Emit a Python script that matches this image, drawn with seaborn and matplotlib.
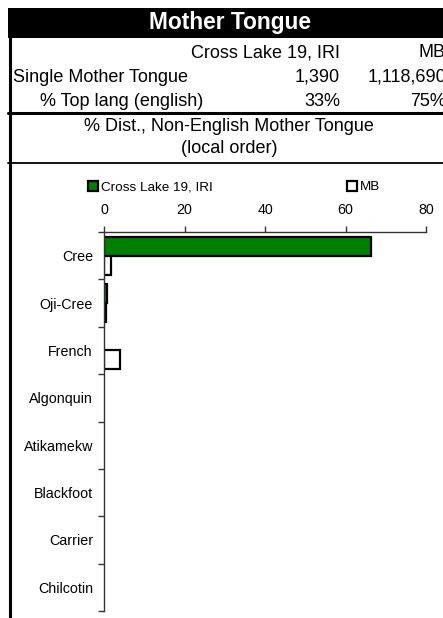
import matplotlib
matplotlib.use("Agg")
import matplotlib.pyplot as plt
from matplotlib.patches import Rectangle
from matplotlib.lines import Line2D
import seaborn as sns
import pandas as pd

# ---- data ----
languages = ["Cree", "Oji-Cree", "French", "Algonquin", "Atikamekw",
             "Blackfoot", "Carrier", "Chilcotin"]
cross_lake = [66.3, 0.8, 0.0, 0.0, 0.0, 0.0, 0.0, 0.0]
mb = [1.8, 0.6, 3.9, 0.0, 0.0, 0.0, 0.0, 0.0]
series_names = ["Cross Lake 19, IRI", "MB"]
x_ticks = [0, 20, 40, 60, 80]

header_cols = ["Cross Lake 19, IRI", "MB"]
row_labels = ["Single Mother Tongue", "% Top lang (english)"]
row_local = ["1,390", "33%"]
row_mb = ["1,118,690", "75%"]

sns.set_theme(style="white")
plt.rcParams["font.family"] = ["Liberation Sans", "DejaVu Sans"]
plt.rcParams["text.color"] = "black"
plt.rcParams["xtick.color"] = "black"
plt.rcParams["ytick.color"] = "black"

W, H = 443, 618
fig = plt.figure(figsize=(W / 100, H / 100), dpi=100)
fig.patch.set_facecolor("white")

def fx(px):
    return px / W

def fy(py):
    return 1 - py / H

# ---- header table ----
fig.patches.append(Rectangle((fx(8), fy(38)), 1 - fx(8), fy(8) - fy(38),
                             transform=fig.transFigure, facecolor="black",
                             edgecolor="none", zorder=0))
fig.text(fx(230), fy(29), "Mother Tongue", color="white", fontsize=16.4,
         fontweight="bold", ha="center", va="baseline")

fig.add_artist(Line2D([fx(9.5), fx(9.5)], [fy(38), 0], color="black",
                      linewidth=2.2, transform=fig.transFigure))
fig.add_artist(Line2D([fx(8), 1], [fy(113), fy(113)], color="black",
                      linewidth=2.2, transform=fig.transFigure))
fig.add_artist(Line2D([fx(8), 1], [fy(163), fy(163)], color="black",
                      linewidth=1.3, transform=fig.transFigure))

fs = 13
fig.text(fx(340), fy(57), header_cols[0], fontsize=fs, ha="right", va="baseline")
fig.text(fx(446), fy(57), header_cols[1], fontsize=fs, ha="right", va="baseline")
fig.text(fx(13), fy(82), row_labels[0], fontsize=fs, ha="left", va="baseline")
fig.text(fx(340), fy(82), row_local[0], fontsize=fs, ha="right", va="baseline")
fig.text(fx(446), fy(82), row_mb[0], fontsize=fs, ha="right", va="baseline")
fig.text(fx(40), fy(106), row_labels[1], fontsize=fs, ha="left", va="baseline")
fig.text(fx(340), fy(106), row_local[1], fontsize=fs, ha="right", va="baseline")
fig.text(fx(446), fy(106), row_mb[1], fontsize=fs, ha="right", va="baseline")
fig.text(fx(229), fy(131), "% Dist., Non-English Mother Tongue", fontsize=fs,
         ha="center", va="baseline")
fig.text(fx(229), fy(153), "(local order)", fontsize=fs, ha="center", va="baseline")

# ---- bar chart ----
df = pd.DataFrame({
    "language": languages * 2,
    "value": cross_lake + mb,
    "series": [series_names[0]] * len(languages) + [series_names[1]] * len(languages),
})

ax = fig.add_axes([fx(104), fy(611), fx(426) - fx(104), fy(232) - fy(611)])
sns.barplot(data=df, y="language", x="value", hue="series", orient="h",
            hue_order=series_names, order=languages,
            palette={series_names[0]: "#008000", series_names[1]: "white"},
            saturation=1, edgecolor="black", linewidth=1.6, width=0.8,
            ax=ax, legend=True)

for p in ax.patches:
    if p.get_width() == 0:
        p.set_linewidth(0)

ax.set_xlim(0, 80)
ax.set_ylim(len(languages) - 0.5, -0.5)
ax.set_xlabel("")
ax.set_ylabel("")
ax.xaxis.tick_top()
ax.set_xticks(x_ticks)
ax.set_xticklabels([str(t) for t in x_ticks])
ax.tick_params(axis="x", which="major", direction="out", length=4, width=1,
               color="#333333", labelsize=10.3, pad=7, labelcolor="black")
ax.set_yticks(range(len(languages)))
ax.set_yticklabels(languages)
ax.set_yticks([i - 0.5 for i in range(len(languages) + 1)], minor=True)
ax.tick_params(axis="y", which="major", length=0, labelsize=10.3, pad=8,
               labelcolor="black")
ax.tick_params(axis="y", which="minor", direction="out", length=4, width=1,
               color="#333333", left=True)
for side in ["right", "bottom"]:
    ax.spines[side].set_visible(False)
for side in ["left", "top"]:
    ax.spines[side].set_visible(True)
    ax.spines[side].set_color("#333333")
    ax.spines[side].set_linewidth(1)
ax.grid(False)
ax.set_facecolor("none")

handles, labels = ax.get_legend_handles_labels()
if ax.get_legend() is not None:
    ax.get_legend().remove()
for h, c in zip(handles, ["#008000", "white"]):
    h.set_facecolor(c)
    h.set_edgecolor("black")
    h.set_linewidth(1.6)
leg = fig.legend(handles, labels, ncol=2, loc="center left",
                 bbox_to_anchor=(fx(88), fy(187)), frameon=False, fontsize=9.7,
                 handlelength=0.75, handleheight=0.75, handletextpad=0.2,
                 columnspacing=10.0, borderpad=0, borderaxespad=0)
for t in leg.get_texts():
    t.set_color("black")

fig.savefig("out.png", dpi=100)
